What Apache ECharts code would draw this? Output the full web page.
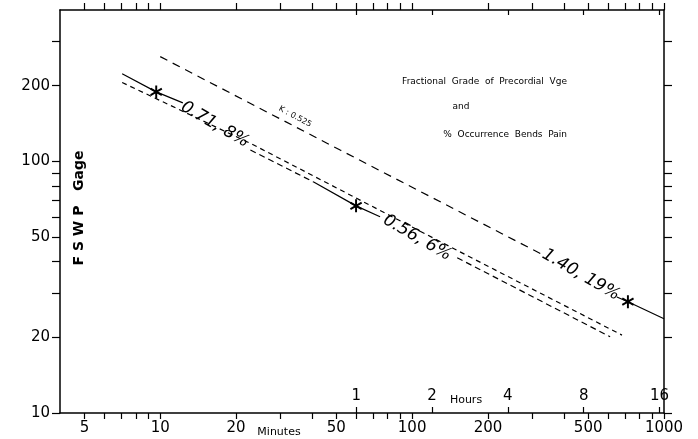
<!DOCTYPE html>
<html>
<head>
<meta charset="utf-8">
<script src="https://cdn.jsdelivr.net/npm/echarts@6/dist/echarts.min.js"></script>
<style>
  html, body { margin: 0; padding: 0; background: #fff; }
  #main { width: 698px; height: 439px; }
</style>
</head>
<body>
<div id="main"></div>
<script>
// axis ticks / labels
var minuteTicks = [5, 6, 7, 8, 9, 10, 20, 30, 40, 50, 60, 70, 80, 90, 100, 200, 300, 400, 500, 600, 700, 800, 900, 1000];
var minuteLabels = [5, 10, 20, 50, 100, 200, 500, 1000];
var hourTicks = [60, 120, 240, 480, 960];
var gageTicks = [10, 20, 30, 40, 50, 60, 70, 80, 90, 100, 200, 300];
var gageLabels = [10, 20, 50, 100, 200];

// curves [minutes, FSWP gage]
var line071Solid = [[7.06, 223], [9.64, 189], [12.3, 171]];
var line071Dashed = [[22.8, 111], [40.5, 83]];
var line056Solid = [[40.5, 83], [59.9, 66.6], [74.6, 60.3]];
var line056Dashed = [[151, 41.4], [611, 20.1]];
var lowerDashed = [[7.06, 206], [23.4, 116.5], [155, 43.7], [681, 20.4]];
var upperDashed = [[10, 261], [51.8, 111], [331, 42.5]];
var line140Solid = [[650, 28.9], [719, 27.7], [1000, 23.7]];
var starPoints = [[9.64, 189], [59.9, 66.6], [719, 27.7]];

// labels written along the curves
var curveLabelText = ['0.71, 8%', '0.56, 6%', '1.40, 19%'];
var curveLabelPos = [[16.5, 140], [104.7, 49.7], [468, 35.4]];
var kLabelText = 'K : 0.525';
var kLabelPos = [34.3, 150.7];

// six-armed asterisk
var starPath = 'path://M-1.5,-10 L1.5,-10 L1.5,10 L-1.5,10 Z ' +
  'M7.91,6.3 L-9.41,-3.7 L-7.91,-6.3 L9.41,3.7 Z ' +
  'M9.41,-3.7 L-7.91,6.3 L-9.41,3.7 L7.91,-6.3 Z';

var chart = echarts.init(document.getElementById('main'));

function lineSeries(data, dash) {
  return {
    type: 'line',
    data: data,
    showSymbol: false,
    silent: true,
    lineStyle: { color: '#000', width: 1.2, type: dash }
  };
}

function plainNumber(v) { return String(Math.round(v)); }

var labelData = curveLabelText.map(function (t, i) {
  return { name: t, value: curveLabelPos[i] };
});

var baseAxis = {
  type: 'log',
  logBase: 10,
  splitLine: { show: false },
  axisLine: { show: false, lineStyle: { color: '#000', width: 1.5 } }
};

var option = {
  backgroundColor: '#fff',
  animation: false,
  grid: { left: 60, right: 34, top: 10, bottom: 26, outerBoundsMode: 'none' },
  xAxis: [
    Object.assign({}, baseAxis, {
      min: 4, max: 1000, position: 'bottom',
      axisLine: { show: true, lineStyle: { color: '#000', width: 1.5 } },
      axisTick: { customValues: minuteTicks, length: 6, lineStyle: { color: '#000', width: 1.2 } },
      axisLabel: {
        customValues: minuteLabels, margin: 8, color: '#000', fontSize: 15,
        fontFamily: 'DejaVu Sans', hideOverlap: false, formatter: plainNumber
      }
    }),
    Object.assign({}, baseAxis, {
      min: 4, max: 1000, position: 'bottom',
      axisTick: { customValues: hourTicks, inside: true, length: 6, lineStyle: { color: '#000', width: 1.2 } },
      axisLabel: {
        customValues: hourTicks, inside: true, margin: 9, color: '#000', fontSize: 15,
        fontFamily: 'DejaVu Sans', hideOverlap: false,
        formatter: function (v) { return String(Math.round(v / 60)); }
      }
    }),
    Object.assign({}, baseAxis, {
      min: 4, max: 1000, position: 'top',
      axisLine: { show: true, lineStyle: { color: '#000', width: 1.5 } },
      axisTick: { customValues: minuteTicks, length: 7, lineStyle: { color: '#000', width: 1.2 } },
      axisLabel: { show: false }
    }),
    Object.assign({}, baseAxis, {
      min: 4, max: 1000, position: 'top',
      axisTick: { customValues: hourTicks, inside: true, length: 5, lineStyle: { color: '#000', width: 1.2 } },
      axisLabel: { show: false }
    })
  ],
  yAxis: [
    Object.assign({}, baseAxis, {
      min: 10, max: 400, position: 'left',
      axisLine: { show: true, lineStyle: { color: '#000', width: 1.5 } },
      axisTick: { customValues: gageTicks, length: 8, lineStyle: { color: '#000', width: 1.2 } },
      axisLabel: {
        customValues: gageLabels, margin: 10, color: '#000', fontSize: 15,
        fontFamily: 'DejaVu Sans', hideOverlap: false, formatter: plainNumber
      }
    }),
    Object.assign({}, baseAxis, {
      min: 10, max: 400, position: 'right',
      axisLine: { show: true, lineStyle: { color: '#000', width: 1.5 } },
      axisTick: { customValues: gageTicks, length: 8, lineStyle: { color: '#000', width: 1.2 } },
      axisLabel: { show: false }
    })
  ],
  series: [
    lineSeries(line071Solid, 'solid'),
    lineSeries(line071Dashed, [6, 4]),
    lineSeries(line056Solid, 'solid'),
    lineSeries(line056Dashed, [6, 4]),
    lineSeries(lowerDashed, [5, 4]),
    lineSeries(upperDashed, [8, 6]),
    lineSeries(line140Solid, 'solid'),
    {
      type: 'scatter',
      data: starPoints,
      symbol: starPath,
      symbolSize: 13,
      symbolKeepAspect: true,
      itemStyle: { color: '#000', opacity: 1 },
      silent: true
    },
    {
      type: 'scatter',
      data: labelData,
      symbolSize: 0,
      silent: true,
      itemStyle: { color: '#000', opacity: 1 },
      label: {
        show: true,
        position: 'inside',
        formatter: '{b}',
        rotate: -30,
        color: '#000',
        textBorderWidth: 0,
        fontSize: 17,
        fontStyle: 'italic',
        fontFamily: 'DejaVu Sans'
      }
    },
    {
      type: 'scatter',
      data: [{ name: kLabelText, value: kLabelPos }],
      symbolSize: 0,
      silent: true,
      itemStyle: { color: '#000', opacity: 1 },
      label: {
        show: true,
        position: 'inside',
        formatter: '{b}',
        rotate: -28,
        color: '#000',
        textBorderWidth: 0,
        fontSize: 8,
        fontFamily: 'DejaVu Sans'
      }
    }
  ],
  graphic: [
    {
      type: 'text', x: 567, y: 82,
      style: {
        text: 'Fractional  Grade  of  Precordial  Vge', align: 'right', verticalAlign: 'middle',
        fill: '#000', font: '9px "DejaVu Sans"'
      }
    },
    {
      type: 'text', x: 461, y: 107,
      style: { text: 'and', align: 'center', verticalAlign: 'middle', fill: '#000', font: '9px "DejaVu Sans"' }
    },
    {
      type: 'text', x: 567, y: 135,
      style: {
        text: '%  Occurrence  Bends  Pain', align: 'right', verticalAlign: 'middle',
        fill: '#000', font: '9px "DejaVu Sans"'
      }
    },
    {
      type: 'text', x: 79, y: 208, rotation: Math.PI / 2,
      style: {
        text: 'F S W P   Gage', align: 'center', verticalAlign: 'middle',
        fill: '#000', font: 'bold 14px "DejaVu Sans"'
      }
    },
    {
      type: 'text', x: 279, y: 432,
      style: { text: 'Minutes', align: 'center', verticalAlign: 'middle', fill: '#000', font: '11px "DejaVu Sans"' }
    },
    {
      type: 'text', x: 466, y: 400,
      style: { text: 'Hours', align: 'center', verticalAlign: 'middle', fill: '#000', font: '11px "DejaVu Sans"' }
    }
  ]
};

chart.setOption(option);
</script>
</body>
</html>
